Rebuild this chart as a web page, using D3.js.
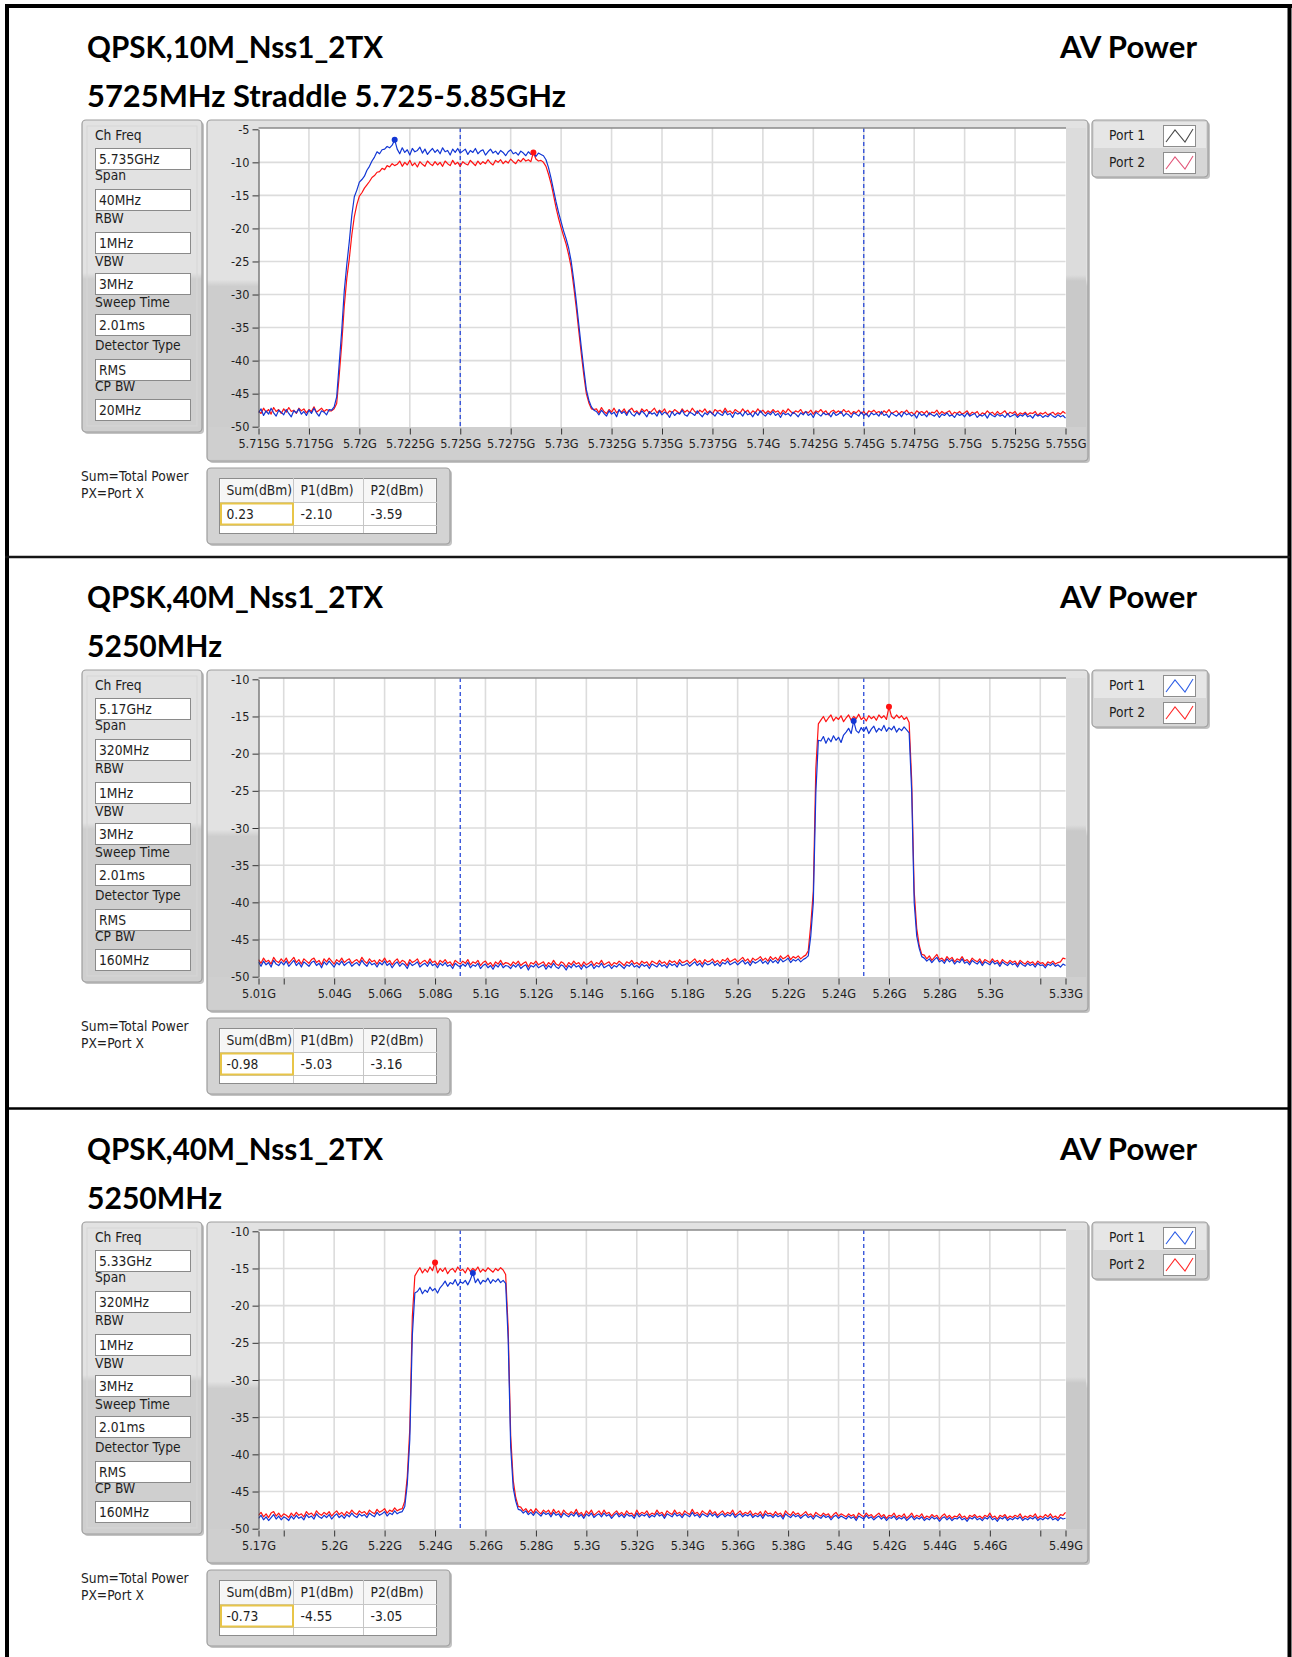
<!DOCTYPE html>
<html>
<head>
<meta charset="utf-8">
<title>AV Power spectra</title>
<script src="https://d3js.org/d3.v7.min.js"></script>
<style>
  body { margin: 0; background: #fff; }
  svg { display: block; }
  .ui { font-family: "DejaVu Sans Condensed", "Liberation Sans Narrow", "DejaVu Sans", sans-serif; font-stretch: condensed; font-size: 13.7px; fill: #1e1e1e; }
  .title { font-family: "Lato", "Open Sans", "DejaVu Sans", sans-serif; font-weight: 700; font-size: 31px; fill: #000; }
  .axis text { font-family: "DejaVu Sans Condensed", "Liberation Sans Narrow", "DejaVu Sans", sans-serif; font-stretch: condensed; font-size: 12.6px; fill: #1e1e1e; }
</style>
</head>
<body>
<svg id="page" width="1292" height="1657"></svg>
<script>
// ---------------- text ----------------
const panelTitles = ["QPSK,10M_Nss1_2TX", "QPSK,40M_Nss1_2TX", "QPSK,40M_Nss1_2TX"];
const panelSubtitles = ["5725MHz Straddle 5.725-5.85GHz", "5250MHz", "5250MHz"];
const modeLabel = "AV Power";
const settingLabels = ["Ch Freq", "Span", "RBW", "VBW", "Sweep Time", "Detector Type", "CP BW"];
const legendLabels = ["Port 1", "Port 2"];
const noteLines = ["Sum=Total Power", "PX=Port X"];
const resultHeaders = ["Sum(dBm)", "P1(dBm)", "P2(dBm)"];

// ---------------- analyzer settings & channel power results ----------------
const p1Settings = ["5.735GHz", "40MHz", "1MHz", "3MHz", "2.01ms", "RMS", "20MHz"];
const p2Settings = ["5.17GHz", "320MHz", "1MHz", "3MHz", "2.01ms", "RMS", "160MHz"];
const p3Settings = ["5.33GHz", "320MHz", "1MHz", "3MHz", "2.01ms", "RMS", "160MHz"];
const p1Results = ["0.23", "-2.10", "-3.59"];
const p2Results = ["-0.98", "-5.03", "-3.16"];
const p3Results = ["-0.73", "-4.55", "-3.05"];

// ---------------- axes (frequency in GHz, level in dBm) ----------------
const p1XDomain = [5.715, 5.755];
const p1XTicks = [5.715, 5.7175, 5.72, 5.7225, 5.725, 5.7275, 5.73, 5.7325, 5.735, 5.7375, 5.74, 5.7425, 5.745, 5.7475, 5.75, 5.7525, 5.755];
const p1XLabels = ["5.715G", "5.7175G", "5.72G", "5.7225G", "5.725G", "5.7275G", "5.73G", "5.7325G", "5.735G", "5.7375G", "5.74G", "5.7425G", "5.745G", "5.7475G", "5.75G", "5.7525G", "5.755G"];
const p1XGrid = [5.7175, 5.72, 5.7225, 5.725, 5.7275, 5.73, 5.7325, 5.735, 5.7375, 5.74, 5.7425, 5.745, 5.7475, 5.75, 5.7525];
const p1YDomain = [-50, -5];
const p1YTicks = [-50, -45, -40, -35, -30, -25, -20, -15, -10, -5];
const p1YLabels = ["-50", "-45", "-40", "-35", "-30", "-25", "-20", "-15", "-10", "-5"];
const p1CpEdges = [5.725, 5.745];

const p2XDomain = [5.01, 5.33];
const p2XTicks = [5.01, 5.02, 5.04, 5.06, 5.08, 5.1, 5.12, 5.14, 5.16, 5.18, 5.2, 5.22, 5.24, 5.26, 5.28, 5.3, 5.32, 5.33];
const p2XLabels = ["5.01G", "", "5.04G", "5.06G", "5.08G", "5.1G", "5.12G", "5.14G", "5.16G", "5.18G", "5.2G", "5.22G", "5.24G", "5.26G", "5.28G", "5.3G", "", "5.33G"];
const p2XGrid = [5.02, 5.04, 5.06, 5.08, 5.1, 5.12, 5.14, 5.16, 5.18, 5.2, 5.22, 5.24, 5.26, 5.28, 5.3, 5.32];
const p2CpEdges = [5.09, 5.25];

const p3XDomain = [5.17, 5.49];
const p3XTicks = [5.17, 5.18, 5.2, 5.22, 5.24, 5.26, 5.28, 5.3, 5.32, 5.34, 5.36, 5.38, 5.4, 5.42, 5.44, 5.46, 5.48, 5.49];
const p3XLabels = ["5.17G", "", "5.2G", "5.22G", "5.24G", "5.26G", "5.28G", "5.3G", "5.32G", "5.34G", "5.36G", "5.38G", "5.4G", "5.42G", "5.44G", "5.46G", "", "5.49G"];
const p3XGrid = [5.18, 5.2, 5.22, 5.24, 5.26, 5.28, 5.3, 5.32, 5.34, 5.36, 5.38, 5.4, 5.42, 5.44, 5.46, 5.48];
const p3CpEdges = [5.25, 5.41];

const wideYDomain = [-50, -10];
const wideYTicks = [-50, -45, -40, -35, -30, -25, -20, -15, -10];
const wideYLabels = ["-50", "-45", "-40", "-35", "-30", "-25", "-20", "-15", "-10"];

// ---------------- traces (dBm), equally spaced sweep points across each frequency span ----------------
// 10 MHz channel centred on 5.735 GHz, 5.715-5.755 GHz sweep
const p1Port1 = [
  -47.9,-47.3,-48.3,-47.6,-48.1,-47.2,-47.9,-48.4,-47.5,-47.8,
  -48.2,-47.4,-48.0,-48.5,-47.6,-47.9,-47.3,-48.1,-47.7,-48.3,
  -47.5,-48.0,-47.2,-47.9,-48.4,-47.6,-47.8,-48.2,-47.4,
  // rising edge
  -47.5,-47.0,-45.5,-40.5,-35.5,-29.5,-25.5,-22.0,-18.0,-15.2,-14.2,-13.0,-12.6,
  -12.1,-11.2,-10.6,-9.8,-9.2,-8.4,-8.7,-8.1,-8.0,-7.6,-7.8,-7.4,-6.6,
  // in-channel
  -8.0,-8.7,-7.8,-8.5,-8.1,-8.9,-7.9,-8.4,-8.2,-7.7,
  -8.6,-8.0,-8.8,-8.3,-7.9,-8.5,-8.1,-8.7,-7.8,-8.4,
  -8.2,-8.9,-8.0,-8.5,-7.9,-8.6,-8.3,-8.0,-8.8,-8.2,
  -8.5,-7.9,-8.7,-8.3,-8.1,-8.9,-8.4,-8.0,-8.6,-8.3,
  -8.8,-8.2,-8.5,-9.0,-8.4,-8.1,-8.7,-8.5,-8.9,-8.3,
  -8.6,-9.0,-8.4,-8.8,-8.5,-9.1,-8.6,-8.8,
  // falling edge
  -9.0,-9.6,-10.8,-12.4,-14.2,-16.0,-17.6,-19.0,-20.4,-21.6,-23.0,
  -25.0,-27.8,-31.0,-34.5,-38.0,-41.3,-44.4,-46.0,-47.0,-47.5,
  // noise floor
  -47.7,-48.2,-47.5,-48.0,-48.4,-47.6,-48.1,-47.8,-48.5,-47.4,
  -48.0,-47.7,-48.3,-47.5,-48.1,-48.4,-47.8,-48.2,-47.6,-48.0,
  -48.5,-47.7,-48.1,-47.9,-48.4,-47.6,-48.2,-47.8,-48.0,-48.6,
  -47.7,-48.3,-47.9,-48.1,-47.5,-48.2,-48.4,-47.8,-48.0,-48.3,
  -47.6,-48.1,-48.5,-47.9,-48.2,-47.7,-48.0,-48.4,-47.8,-48.1,
  -48.3,-47.6,-48.2,-48.0,-48.6,-47.8,-48.1,-47.9,-48.4,-47.7,
  -48.2,-48.0,-48.5,-47.8,-48.3,-47.6,-48.1,-48.4,-47.9,-48.2,
  -47.7,-48.3,-48.0,-48.6,-47.9,-48.2,-48.0,-48.4,-47.8,-48.1,
  -48.5,-47.9,-48.2,-47.7,-48.3,-48.0,-48.6,-47.8,-48.1,-48.4,
  -47.9,-48.2,-48.0,-48.5,-47.8,-48.3,-48.1,-47.7,-48.4,-48.0,
  -48.2,-48.6,-47.9,-48.1,-48.4,-47.8,-48.3,-48.0,-48.5,-47.9,
  -48.2,-48.0,-48.4,-47.7,-48.3,-48.1,-48.6,-47.9,-48.2,-48.4,
  -48.0,-48.5,-47.8,-48.2,-48.0,-48.4,-48.1,-48.7,-47.9,-48.3,
  -48.1,-48.5,-47.9,-48.2,-48.4,-48.0,-48.6,-48.1,-48.3,-47.9,
  -48.4,-48.2,-48.6,-48.0,-48.3,-48.1,-48.5,-47.9,-48.4,-48.2,
  -48.0,-48.6,-48.2,-48.4,-48.1,-48.7,-48.0,-48.3,-48.5,-48.1,
  -48.4,-48.2,-48.6,-48.0,-48.5,-48.3,-48.1,-48.6,-48.2,-48.4,
  -48.0,-48.5,-48.3,-48.7,-48.1,-48.4,-48.2,-48.6,-48.3,-48.5,
  -48.1,-48.4,-48.6,-48.2,-48.5,-48.3,-48.7
];
const p1Port2 = [
  -47.6,-48.0,-47.2,-47.8,-47.4,-48.1,-47.1,-47.7,-47.4,-48.0,
  -47.3,-47.8,-47.1,-47.7,-47.5,-48.0,-47.2,-47.6,-47.3,-47.9,
  -47.4,-47.7,-47.0,-47.8,-47.5,-47.2,-47.7,-47.4,-47.6,
  // rising edge
  -47.6,-47.3,-46.5,-42.3,-37.5,-31.8,-27.6,-24.6,-21.0,-18.2,-16.4,-15.1,-14.6,
  -13.9,-13.4,-12.9,-12.3,-12.0,-11.5,-11.4,-10.9,-11.1,-10.5,-10.7,-10.2,-10.5,
  // in-channel
  -10.3,-9.8,-10.6,-10.0,-10.4,-9.7,-10.5,-10.1,-10.7,-9.9,
  -10.3,-10.6,-9.8,-10.2,-10.5,-9.9,-10.4,-10.0,-10.6,-9.8,
  -10.2,-10.5,-9.7,-10.3,-10.0,-10.6,-9.9,-10.2,-10.4,-9.7,
  -10.1,-10.5,-9.8,-10.3,-9.9,-10.2,-9.6,-10.1,-10.4,-9.7,
  -10.0,-9.6,-10.2,-9.8,-10.1,-9.5,-9.9,-10.2,-9.6,-9.9,
  -9.4,-9.8,-9.6,-9.9,-8.5,-9.5,-9.8,-9.7,
  // falling edge
  -10.0,-10.6,-11.8,-13.2,-15.0,-16.9,-18.5,-19.9,-21.2,-22.4,-24.0,
  -25.9,-28.8,-32.0,-35.5,-39.0,-42.2,-45.0,-46.4,-47.3,-47.4,
  // noise floor
  -47.3,-47.9,-47.1,-47.7,-48.0,-47.4,-47.8,-47.2,-47.9,-47.5,
  -47.8,-47.3,-48.0,-47.5,-47.2,-47.8,-47.6,-48.1,-47.3,-47.7,
  -47.4,-48.0,-47.6,-47.2,-47.9,-47.5,-47.8,-47.3,-48.1,-47.6,
  -47.9,-47.4,-47.7,-48.0,-47.3,-47.8,-47.5,-47.9,-47.2,-47.7,
  -48.0,-47.5,-47.8,-47.3,-47.9,-47.6,-48.1,-47.4,-47.7,-47.5,
  -47.9,-47.2,-47.8,-47.6,-48.0,-47.4,-47.7,-47.9,-47.3,-47.8,
  -47.5,-48.1,-47.6,-47.9,-47.3,-47.8,-47.5,-48.0,-47.6,-47.9,
  -47.4,-47.8,-47.6,-48.1,-47.5,-47.9,-47.3,-47.7,-48.0,-47.6,
  -47.8,-47.4,-48.0,-47.7,-47.9,-47.5,-48.1,-47.6,-47.8,-47.4,
  -47.9,-47.6,-48.2,-47.7,-47.5,-47.9,-47.6,-48.0,-47.4,-47.8,
  -47.6,-48.1,-47.7,-47.9,-47.5,-48.0,-47.7,-48.2,-47.6,-47.8,
  -47.5,-47.9,-47.7,-48.1,-47.6,-47.9,-47.4,-48.0,-47.8,-47.6,
  -48.1,-47.7,-47.9,-47.5,-48.0,-47.8,-48.2,-47.6,-47.9,-47.7,
  -48.0,-47.6,-48.2,-47.8,-47.9,-47.5,-48.1,-47.7,-48.0,-47.8,
  -47.6,-48.2,-47.8,-48.0,-47.7,-48.1,-47.9,-47.6,-48.2,-47.8,
  -48.0,-47.7,-48.3,-47.9,-48.1,-47.6,-48.0,-47.8,-48.2,-47.7,
  -48.1,-47.9,-47.6,-48.2,-47.8,-48.0,-47.7,-48.3,-47.9,-48.1,
  -47.8,-48.2,-47.9,-48.0,-47.7,-48.3,-47.9,-48.1,-47.8,-48.2,
  -48.0,-47.8,-48.2,-47.9,-48.1,-47.7,-48.0
];

// 40 MHz channel at 5.25 GHz, 5.01-5.33 GHz sweep
const p2Port1 = [
  -48.0,-48.6,-47.9,-48.4,-48.1,-48.7,-47.8,-48.3,-48.5,-48.0,
  -48.4,-47.9,-48.6,-48.2,-47.8,-48.5,-48.1,-48.7,-48.0,-48.3,
  -48.6,-48.1,-47.9,-48.5,-48.2,-48.8,-48.0,-48.4,-47.9,-48.3,
  -48.7,-48.1,-48.4,-47.9,-48.5,-48.2,-48.0,-48.6,-48.3,-48.1,
  -48.5,-47.8,-48.3,-48.6,-48.0,-48.4,-48.2,-48.7,-48.1,-48.4,
  -47.9,-48.5,-48.2,-48.8,-48.3,-48.0,-48.6,-48.2,-48.4,-48.9,
  -48.1,-48.5,-48.3,-48.0,-48.7,-48.4,-48.2,-48.6,-48.0,-48.5,
  -48.3,-48.8,-48.2,-48.5,-48.1,-48.6,-48.4,-48.9,-48.2,-48.5,
  -48.7,-48.3,-48.6,-48.1,-48.8,-48.4,-48.6,-48.2,-48.9,-48.5,
  -48.3,-48.8,-48.5,-49.0,-48.4,-48.7,-48.2,-48.8,-48.5,-48.6,
  -48.9,-48.4,-48.7,-48.3,-48.9,-48.6,-48.4,-49.1,-48.5,-48.7,
  -48.3,-48.8,-48.6,-48.4,-49.0,-48.5,-48.8,-48.2,-48.7,-48.9,
  -48.4,-48.6,-49.1,-48.5,-48.8,-48.3,-48.7,-48.5,-49.0,-48.4,
  -48.8,-48.6,-48.3,-48.9,-48.5,-48.7,-48.2,-48.8,-48.6,-48.4,
  -48.9,-48.5,-48.7,-48.3,-48.6,-48.9,-48.4,-48.6,-48.2,-48.7,
  -48.5,-48.8,-48.3,-48.6,-48.4,-48.9,-48.3,-48.5,-48.7,-48.2,
  -48.6,-48.4,-48.8,-48.2,-48.5,-48.3,-48.7,-48.1,-48.5,-48.4,
  -48.2,-48.6,-48.3,-48.0,-48.5,-48.2,-48.7,-48.1,-48.4,-48.3,
  -48.0,-48.5,-48.2,-48.6,-48.1,-48.3,-47.9,-48.4,-48.2,-48.0,
  -48.4,-48.1,-47.8,-48.3,-48.0,-48.5,-47.9,-48.2,-48.0,-47.7,
  -48.2,-47.9,-48.3,-47.7,-48.1,-47.8,-48.2,-47.6,-48.0,-47.8,
  -47.5,-48.1,-47.7,-47.9,-47.6,-48.0,-47.7,-47.5,
  // rising edge
  -47.2,-44.5,-40.0,-25.3,-18.2,
  // in-channel
  -18.3,-17.7,-18.6,-17.9,-18.4,-17.6,-18.2,-17.8,-18.5,-17.5,
  -17.1,-16.6,-17.3,-15.6,-16.9,-17.2,-16.5,-17.0,-16.4,-17.3,
  -16.7,-16.3,-17.1,-16.6,-16.9,-16.2,-17.0,-16.5,-16.8,-16.3,
  -17.1,-16.6,-16.9,-16.4,-16.8,
  // falling edge
  -17.2,-25.0,-40.0,-44.5,-46.2,-47.3,
  // noise floor
  -47.5,-47.9,-47.6,-48.1,-47.7,-47.4,-48.0,-47.8,-48.2,-47.6,
  -48.0,-47.7,-48.3,-47.9,-48.1,-47.6,-48.2,-48.0,-48.4,-47.8,
  -48.1,-48.3,-47.9,-48.5,-48.0,-48.2,-48.4,-47.9,-48.3,-48.1,
  -48.6,-48.0,-48.3,-48.5,-48.1,-48.4,-48.2,-48.7,-48.1,-48.4,
  -48.6,-48.2,-48.5,-48.3,-48.7,-48.2,-48.5,-48.4,-48.8,-48.3,
  -48.5,-48.2,-48.6,-48.4,-48.7,-48.3,-48.5
];
const p2Port2 = [
  -47.7,-48.2,-47.5,-48.0,-47.8,-48.3,-47.4,-47.9,-48.1,-47.6,
  -48.0,-47.5,-48.2,-47.8,-47.4,-48.1,-47.7,-48.3,-47.6,-47.9,
  -48.2,-47.7,-47.5,-48.1,-47.8,-48.4,-47.6,-48.0,-47.5,-47.9,
  -48.3,-47.7,-48.0,-47.5,-48.1,-47.8,-47.6,-48.2,-47.9,-47.7,
  -48.1,-47.4,-47.9,-48.2,-47.6,-48.0,-47.8,-48.3,-47.7,-48.0,
  -47.5,-48.1,-47.8,-48.4,-47.9,-47.6,-48.2,-47.8,-48.0,-48.5,
  -47.7,-48.1,-47.9,-47.6,-48.3,-48.0,-47.8,-48.2,-47.6,-48.1,
  -47.9,-48.4,-47.8,-48.1,-47.7,-48.2,-48.0,-48.5,-47.8,-48.1,
  -48.3,-47.9,-48.2,-47.7,-48.4,-48.0,-48.2,-47.8,-48.5,-48.1,
  -47.9,-48.4,-48.1,-48.6,-48.0,-48.3,-47.8,-48.4,-48.1,-48.2,
  -48.5,-48.0,-48.3,-47.9,-48.5,-48.2,-48.0,-48.7,-48.1,-48.3,
  -47.9,-48.4,-48.2,-48.0,-48.6,-48.1,-48.4,-47.8,-48.3,-48.5,
  -48.0,-48.2,-48.7,-48.1,-48.4,-47.9,-48.3,-48.1,-48.6,-48.0,
  -48.4,-48.2,-47.9,-48.5,-48.1,-48.3,-47.8,-48.4,-48.2,-48.0,
  -48.5,-48.1,-48.3,-47.9,-48.2,-48.5,-48.0,-48.2,-47.8,-48.3,
  -48.1,-48.4,-47.9,-48.2,-48.0,-48.5,-47.9,-48.1,-48.3,-47.8,
  -48.2,-48.0,-48.4,-47.8,-48.1,-47.9,-48.3,-47.7,-48.1,-48.0,
  -47.8,-48.2,-47.9,-47.6,-48.1,-47.8,-48.3,-47.7,-48.0,-47.9,
  -47.6,-48.1,-47.8,-48.2,-47.7,-47.9,-47.5,-48.0,-47.8,-47.6,
  -48.0,-47.7,-47.4,-47.9,-47.6,-48.1,-47.5,-47.8,-47.6,-47.3,
  -47.8,-47.5,-47.9,-47.3,-47.7,-47.4,-47.8,-47.2,-47.6,-47.4,
  -47.1,-47.7,-47.3,-47.5,-47.2,-47.6,-47.3,-47.1,
  // rising edge
  -46.5,-43.0,-38.5,-22.0,-16.0,
  // in-channel
  -15.5,-15.0,-15.7,-15.2,-14.8,-15.6,-15.1,-15.4,-14.9,-15.7,
  -15.2,-14.8,-15.5,-15.0,-15.3,-14.7,-15.4,-15.1,-15.6,-14.9,
  -15.3,-15.0,-15.5,-14.8,-15.2,-14.9,-15.4,-13.7,-15.0,-15.3,
  -14.8,-15.2,-14.9,-15.4,-15.1,
  // falling edge
  -15.8,-23.5,-38.5,-43.5,-45.8,-47.0,
  // noise floor
  -47.1,-47.6,-47.2,-47.8,-47.4,-47.0,-47.7,-47.5,-47.9,-47.3,
  -47.7,-47.4,-48.0,-47.6,-47.8,-47.3,-47.9,-47.7,-48.1,-47.5,
  -47.8,-48.0,-47.6,-48.2,-47.7,-47.9,-48.1,-47.6,-48.0,-47.8,
  -48.3,-47.7,-48.0,-48.2,-47.8,-48.1,-47.9,-48.4,-47.8,-48.1,
  -48.3,-47.9,-48.2,-48.0,-48.4,-47.9,-48.2,-48.1,-48.5,-48.0,
  -48.2,-47.9,-48.3,-48.1,-48.0,-47.5,-47.6
];

// 40 MHz channel at 5.25 GHz, 5.17-5.49 GHz sweep
const p3Port1 = [
  -48.6,-48.2,-48.8,-48.4,-48.9,-48.5,-48.1,-48.7,-48.3,-48.8,
  -48.4,-48.6,-48.9,-48.3,-48.7,-48.2,-48.6,-48.4,-48.8,-48.1,
  -48.5,-48.3,-48.7,-48.0,-48.4,-48.6,-48.2,-48.5,-48.1,-48.7,
  -48.3,-48.0,-48.5,-48.2,-48.6,-48.1,-48.4,-47.9,-48.3,-48.5,
  -48.0,-48.3,-48.1,-48.5,-47.9,-48.2,-48.4,-47.8,-48.2,-48.0,
  -47.7,-48.3,-47.9,-48.1,-47.6,-48.0,-47.8,-47.7,
  // rising edge
  -47.0,-44.0,-38.0,-24.0,-18.3,
  // in-channel
  -18.1,-17.6,-18.4,-17.9,-18.2,-17.5,-18.0,-17.7,-18.3,-17.6,
  -17.2,-16.7,-17.4,-16.9,-17.1,-16.5,-17.3,-16.8,-17.0,-16.6,
  -17.2,-16.5,-15.6,-16.9,-16.4,-17.1,-16.6,-16.8,-16.3,-17.0,
  -16.5,-16.8,-16.4,-16.9,-16.6,
  // falling edge
  -17.0,-24.5,-39.0,-44.5,-46.3,-47.4,
  // noise floor
  -47.5,-47.9,-47.6,-48.1,-47.8,-48.2,-47.7,-48.0,-48.3,-47.8,
  -48.1,-47.9,-48.4,-47.8,-48.2,-48.0,-48.5,-47.9,-48.2,-48.4,
  -48.0,-48.3,-47.8,-48.4,-48.1,-48.6,-48.0,-48.3,-47.9,-48.5,
  -48.2,-48.0,-48.4,-47.9,-48.3,-48.1,-48.6,-48.2,-47.9,-48.4,
  -48.1,-48.5,-48.0,-48.3,-48.2,-48.6,-47.9,-48.4,-48.1,-48.3,
  -48.0,-48.5,-48.2,-48.4,-47.9,-48.3,-48.1,-48.6,-48.0,-48.2,
  -48.4,-47.9,-48.3,-48.1,-48.5,-48.0,-48.2,-48.4,-47.8,-48.3,
  -48.1,-48.5,-48.0,-48.2,-48.4,-47.9,-48.3,-48.0,-48.5,-48.2,
  -48.0,-48.4,-48.1,-48.3,-47.9,-48.5,-48.2,-48.0,-48.4,-48.1,
  -48.3,-48.0,-48.5,-48.2,-48.4,-48.1,-48.6,-48.0,-48.3,-48.2,
  -48.5,-48.1,-48.4,-48.2,-48.7,-48.0,-48.3,-48.5,-48.1,-48.4,
  -48.2,-48.6,-48.3,-48.1,-48.5,-48.3,-48.7,-48.2,-48.4,-48.6,
  -48.2,-48.5,-48.3,-48.8,-48.4,-48.2,-48.6,-48.3,-48.5,-48.7,
  -48.3,-48.6,-48.4,-48.9,-48.3,-48.5,-48.7,-48.2,-48.6,-48.4,
  -48.8,-48.5,-48.3,-48.7,-48.4,-48.9,-48.5,-48.6,-48.3,-48.8,
  -48.5,-48.7,-48.4,-48.9,-48.6,-48.3,-48.8,-48.5,-48.7,-48.4,
  -48.9,-48.6,-48.8,-48.4,-48.7,-48.5,-49.0,-48.6,-48.4,-48.8,
  -48.5,-48.9,-48.6,-48.7,-48.4,-48.8,-48.6,-49.0,-48.5,-48.7,
  -48.4,-48.8,-48.6,-48.9,-48.5,-48.7,-48.3,-48.8,-48.6,-49.0,
  -48.5,-48.7,-48.4,-48.9,-48.6,-48.8,-48.5,-48.7,-48.4,-48.9,
  -48.6,-48.8,-48.5,-48.7,-48.4,-48.9,-48.6,-48.8,-48.5,-48.7,
  -48.4,-48.8,-48.6,-48.9,-48.5,-48.7,-48.6
];
const p3Port2 = [
  -48.2,-47.8,-48.4,-48.0,-48.5,-47.9,-47.7,-48.3,-47.9,-48.4,
  -48.0,-48.2,-48.5,-47.9,-48.3,-47.8,-48.2,-48.0,-48.4,-47.7,
  -48.1,-47.9,-48.3,-47.6,-48.0,-48.2,-47.8,-48.1,-47.7,-48.3,
  -47.9,-47.6,-48.1,-47.8,-48.2,-47.7,-48.0,-47.5,-47.9,-48.1,
  -47.6,-47.9,-47.7,-48.1,-47.5,-47.8,-48.0,-47.4,-47.8,-47.6,
  -47.3,-47.9,-47.5,-47.7,-47.2,-47.6,-47.4,-47.3,
  // rising edge
  -46.3,-43.0,-36.5,-21.5,-16.0,
  // in-channel
  -15.4,-14.9,-15.6,-15.1,-15.5,-14.8,-15.3,-14.2,-15.6,-15.0,
  -15.4,-14.9,-15.7,-15.2,-15.0,-15.5,-14.8,-15.3,-15.1,-15.6,
  -14.9,-15.4,-15.0,-15.3,-14.8,-15.5,-15.1,-15.4,-14.9,-15.2,
  -15.5,-15.0,-15.3,-14.9,-15.2,
  // falling edge
  -15.8,-23.0,-37.5,-43.5,-45.8,-47.0,
  // noise floor
  -47.1,-47.6,-47.3,-47.8,-47.4,-47.9,-47.3,-47.7,-48.0,-47.5,
  -47.8,-47.5,-48.1,-47.4,-47.9,-47.6,-48.2,-47.5,-47.9,-48.1,
  -47.7,-48.0,-47.4,-48.1,-47.8,-48.3,-47.6,-48.0,-47.5,-48.2,
  -47.9,-47.6,-48.1,-47.5,-48.0,-47.8,-48.3,-47.9,-47.6,-48.1,
  -47.8,-48.2,-47.6,-48.0,-47.9,-48.3,-47.5,-48.1,-47.8,-48.0,
  -47.6,-48.2,-47.9,-48.1,-47.5,-48.0,-47.8,-48.3,-47.6,-47.9,
  -48.1,-47.5,-48.0,-47.8,-48.2,-47.6,-47.9,-48.1,-47.4,-48.0,
  -47.8,-48.2,-47.6,-47.9,-48.1,-47.5,-48.0,-47.7,-48.2,-47.9,
  -47.6,-48.1,-47.8,-48.0,-47.5,-48.2,-47.9,-47.6,-48.1,-47.8,
  -48.0,-47.6,-48.2,-47.9,-48.1,-47.7,-48.3,-47.6,-48.0,-47.9,
  -48.2,-47.7,-48.1,-47.9,-48.4,-47.6,-48.0,-48.2,-47.7,-48.1,
  -47.9,-48.3,-48.0,-47.7,-48.2,-48.0,-48.4,-47.8,-48.1,-48.3,
  -47.9,-48.2,-48.0,-48.5,-48.1,-47.8,-48.3,-48.0,-48.2,-48.4,
  -48.0,-48.3,-48.1,-48.6,-47.9,-48.2,-48.4,-47.9,-48.3,-48.1,
  -48.5,-48.2,-47.9,-48.4,-48.1,-48.6,-48.2,-48.3,-47.9,-48.5,
  -48.2,-48.4,-48.0,-48.6,-48.3,-47.9,-48.5,-48.2,-48.4,-48.0,
  -48.6,-48.3,-48.5,-48.1,-48.4,-48.2,-48.7,-48.3,-48.0,-48.5,
  -48.2,-48.6,-48.3,-48.4,-48.0,-48.5,-48.3,-48.7,-48.2,-48.4,
  -48.1,-48.5,-48.3,-48.6,-48.2,-48.4,-47.9,-48.5,-48.3,-48.7,
  -48.2,-48.4,-48.1,-48.6,-48.3,-48.5,-48.2,-48.4,-48.0,-48.6,
  -48.3,-48.5,-48.2,-48.4,-48.0,-48.6,-48.3,-48.5,-48.1,-48.4,
  -48.0,-48.5,-48.3,-48.6,-48.1,-48.2,-47.8
];

// ---------------- assemble panels ----------------
const panels = [
  { title: panelTitles[0], sub: panelSubtitles[0], settings: p1Settings, results: p1Results,
    port1: p1Port1, port2: p1Port2, xDomain: p1XDomain, xTicks: p1XTicks, xLabels: p1XLabels,
    xGrid: p1XGrid, yDomain: p1YDomain, yTicks: p1YTicks, yLabels: p1YLabels, cp: p1CpEdges },
  { title: panelTitles[1], sub: panelSubtitles[1], settings: p2Settings, results: p2Results,
    port1: p2Port1, port2: p2Port2, xDomain: p2XDomain, xTicks: p2XTicks, xLabels: p2XLabels,
    xGrid: p2XGrid, yDomain: wideYDomain, yTicks: wideYTicks, yLabels: wideYLabels, cp: p2CpEdges },
  { title: panelTitles[2], sub: panelSubtitles[2], settings: p3Settings, results: p3Results,
    port1: p3Port1, port2: p3Port2, xDomain: p3XDomain, xTicks: p3XTicks, xLabels: p3XLabels,
    xGrid: p3XGrid, yDomain: wideYDomain, yTicks: wideYTicks, yLabels: wideYLabels, cp: p3CpEdges }
];

// ---------------- layout ----------------
const L = {
  offsets: [0, 550, 1102],
  titleX: 87, titleY: 58, subY: 107, titleW: 296, subW: [479, 135, 135], modeRight: 1197, modeW: 137,
  box: { x: 82, y: 120, w: 120, h: 312 },
  setLabelY: [139.5, 179.5, 223, 266, 306.5, 350, 390.5],
  setBoxY: [148, 189, 231.5, 273, 314, 359, 399],
  frame: { x: 207, y: 120, w: 881, h: 341 },
  plot: { x0: 258.5, x1: 1065.5, yTop: 129.3, yBot: 426.7 },
  legend: { x: 1092, y: 120, w: 116, h: 57 },
  res: { x: 207, y: 468, w: 243, h: 76 },
  table: { x: 219.5, y: 478, w: 217, cols: [219.5, 293.5, 363.5, 436.5], rows: [478, 502, 525, 533] }
};
const BLUE = "#1236d4", RED = "#ff1212";
const legendSwatches = [["#4a4a4a", "#e2577a"], ["#2f5fe6", "#ff2a2a"], ["#2f5fe6", "#ff2a2a"]];

const svg = d3.select("#page");
const defs = svg.append("defs");

function vGrad(id, split, top, bottom) {
  const g = defs.append("linearGradient").attr("id", id).attr("x1", 0).attr("y1", 0).attr("x2", 0).attr("y2", 1);
  g.append("stop").attr("offset", 0).attr("stop-color", top);
  g.append("stop").attr("offset", split - 0.01).attr("stop-color", top);
  g.append("stop").attr("offset", split + 0.01).attr("stop-color", bottom);
  g.append("stop").attr("offset", 1).attr("stop-color", bottom);
}
vGrad("boxFill", 0.5, "#e2e2e2", "#cfcfcf");
vGrad("frameFill", 0.478, "#e2e2e2", "#cdcdcd");
vGrad("marginFill", 0.5, "#dcdcdc", "#c9c9c9");

function raisedRect(g, r, fill) {
  g.append("rect").attr("x", r.x + 2).attr("y", r.y + 2).attr("width", r.w).attr("height", r.h)
    .attr("rx", 4).attr("fill", "#c3c3c3");
  g.append("rect").attr("x", r.x).attr("y", r.y).attr("width", r.w).attr("height", r.h)
    .attr("rx", 4).attr("fill", fill).attr("stroke", "#9d9d9d").attr("stroke-width", 1.2);
}

function drawPanel(p, k) {
  const g = svg.append("g").attr("transform", `translate(0,${L.offsets[k]})`);

  // headings
  g.append("text").attr("class", "title").attr("x", L.titleX).attr("y", L.titleY)
    .attr("textLength", L.titleW).attr("lengthAdjust", "spacingAndGlyphs").text(p.title);
  g.append("text").attr("class", "title").attr("x", L.titleX).attr("y", L.subY)
    .attr("textLength", L.subW[k]).attr("lengthAdjust", "spacingAndGlyphs").text(p.sub);
  g.append("text").attr("class", "title").attr("x", L.modeRight - L.modeW).attr("y", L.titleY)
    .attr("textLength", L.modeW).attr("lengthAdjust", "spacingAndGlyphs").text(modeLabel);

  // settings box
  raisedRect(g, L.box, "url(#boxFill)");
  g.append("rect").attr("x", L.box.x + 5).attr("y", L.box.y + 6).attr("width", L.box.w - 10).attr("height", L.box.h - 12)
    .attr("fill", "none").attr("stroke", "#d6d6d6");
  p.settings.forEach((v, i) => {
    g.append("rect").attr("x", 95.5).attr("y", L.setBoxY[i] + 0.5).attr("width", 95).attr("height", 21)
      .attr("fill", "#fff").attr("stroke", "#8a8a8a").attr("shape-rendering", "crispEdges");
    g.append("text").attr("class", "ui").attr("x", 99).attr("y", L.setBoxY[i] + 16).text(v);
  });
  settingLabels.forEach((lab, i) => {
    g.append("text").attr("class", "ui").attr("x", 95).attr("y", L.setLabelY[i]).text(lab);
  });

  // graph frame
  raisedRect(g, L.frame, "url(#frameFill)");
  g.append("rect").attr("x", 1066).attr("y", 128).attr("width", 20).attr("height", 300).attr("fill", "url(#marginFill)");
  g.append("rect").attr("x", 209).attr("y", 427).attr("width", 877).attr("height", 32).attr("fill", "#cfcfcf");

  const x = d3.scaleLinear().domain(p.xDomain).range([L.plot.x0, L.plot.x1]);
  const y = d3.scaleLinear().domain(p.yDomain).range([L.plot.yBot, L.plot.yTop]);

  // plot area
  g.append("rect").attr("x", L.plot.x0).attr("y", 128).attr("width", L.plot.x1 - L.plot.x0 + 0.5).attr("height", 299)
    .attr("fill", "#fff");

  // grid
  g.append("g").selectAll("line").data(p.xGrid).join("line")
    .attr("x1", d => x(d)).attr("x2", d => x(d)).attr("y1", 128).attr("y2", 427)
    .attr("stroke", "#dcdcdc").attr("stroke-width", 1.6);
  g.append("g").selectAll("line").data(p.yTicks.slice(1, -1)).join("line")
    .attr("x1", L.plot.x0).attr("x2", L.plot.x1).attr("y1", d => y(d)).attr("y2", d => y(d))
    .attr("stroke", "#dcdcdc").attr("stroke-width", 1.6);

  // channel power band edges
  g.append("g").selectAll("line").data(p.cp).join("line")
    .attr("x1", d => x(d)).attr("x2", d => x(d)).attr("y1", 128).attr("y2", 427)
    .attr("stroke", "#2b4ad8").attr("stroke-width", 1.3).attr("stroke-dasharray", "4,3");

  // plot top border
  g.append("line").attr("x1", L.plot.x0).attr("x2", L.plot.x1 + 0.5).attr("y1", 128).attr("y2", 128)
    .attr("stroke", "#8a8a8a").attr("stroke-width", 1.4);

  // traces (clip rect lives in the panel group's own coordinates)
  const clipId = `plotClip${k}`;
  defs.append("clipPath").attr("id", clipId).append("rect")
    .attr("x", L.plot.x0).attr("y", 127).attr("width", L.plot.x1 - L.plot.x0 + 1).attr("height", 301);
  const traces = g.append("g").attr("clip-path", `url(#${clipId})`);
  [[p.port2, RED], [p.port1, BLUE]].forEach(([vals, col]) => {
    const step = (p.xDomain[1] - p.xDomain[0]) / (vals.length - 1);
    const freq = i => p.xDomain[0] + i * step;
    const line = d3.line().x((d, i) => x(freq(i))).y(d => y(d));
    traces.append("path").datum(vals).attr("d", line).attr("fill", "none")
      .attr("stroke", col).attr("stroke-width", 1.2).attr("stroke-linejoin", "round");
  });
  // peak markers
  [[p.port2, RED], [p.port1, BLUE]].forEach(([vals, col]) => {
    const step = (p.xDomain[1] - p.xDomain[0]) / (vals.length - 1);
    const m = d3.maxIndex(vals);
    traces.append("circle").attr("cx", x(p.xDomain[0] + m * step)).attr("cy", y(vals[m])).attr("r", 3).attr("fill", col);
  });

  // axes
  const xAxis = g.append("g").attr("class", "axis").attr("transform", "translate(0,428.5)")
    .call(d3.axisBottom(x).tickValues(p.xTicks).tickFormat((d, i) => p.xLabels[i])
      .tickSizeInner(6).tickSizeOuter(0).tickPadding(4.5));
  xAxis.select(".domain").remove();
  xAxis.selectAll(".tick line").attr("stroke", "#333");
  xAxis.attr("font-family", null).attr("font-size", null);

  const yAxis = g.append("g").attr("class", "axis").attr("transform", `translate(${L.plot.x0},0)`)
    .call(d3.axisLeft(y).tickValues(p.yTicks).tickFormat((d, i) => p.yLabels[i])
      .tickSizeInner(6).tickSizeOuter(0).tickPadding(3));
  yAxis.select(".domain").attr("stroke", "#3a3a3a");
  yAxis.selectAll(".tick line").attr("stroke", "#333");
  yAxis.attr("font-family", null).attr("font-size", null);

  // legend
  const lg = L.legend;
  raisedRect(g, lg, "#d6d6d6");
  g.append("rect").attr("x", lg.x + 2).attr("y", lg.y + 2).attr("width", lg.w - 4).attr("height", 26).attr("fill", "#e6e6e6");
  legendLabels.forEach((lab, i) => {
    const ry = lg.y + 5 + i * 27;
    g.append("text").attr("class", "ui").attr("x", 1109).attr("y", ry + 15).text(lab);
    g.append("rect").attr("x", 1163.5).attr("y", ry + 0.5).attr("width", 32).attr("height", 21)
      .attr("fill", "#fff").attr("stroke", "#8d8d8d").attr("shape-rendering", "crispEdges");
    g.append("polyline").attr("points", [[1166, ry + 17], [1175, ry + 5], [1185, ry + 17], [1193, ry + 4]].join(" "))
      .attr("fill", "none").attr("stroke", legendSwatches[k][i]).attr("stroke-width", 1.1);
  });

  // notes and results table
  noteLines.forEach((t, i) => {
    g.append("text").attr("class", "ui").attr("x", 81).attr("y", 481 + i * 17).text(t);
  });
  raisedRect(g, L.res, "#d3d3d3");
  const t = L.table;
  g.append("rect").attr("x", t.x).attr("y", t.y).attr("width", t.w).attr("height", t.rows[3] - t.y)
    .attr("fill", "#fff").attr("stroke", "#8c8c8c").attr("shape-rendering", "crispEdges");
  g.append("rect").attr("x", t.x + 1).attr("y", t.y + 1).attr("width", t.w - 2).attr("height", t.rows[1] - t.y - 1)
    .attr("fill", "#f6f6f6");
  t.cols.slice(1, -1).forEach(cx => {
    g.append("line").attr("x1", cx).attr("x2", cx).attr("y1", t.y).attr("y2", t.rows[3])
      .attr("stroke", "#c6c6c6").attr("shape-rendering", "crispEdges");
  });
  t.rows.slice(1, -1).forEach(ry => {
    g.append("line").attr("x1", t.x).attr("x2", t.x + t.w).attr("y1", ry).attr("y2", ry)
      .attr("stroke", "#c6c6c6").attr("shape-rendering", "crispEdges");
  });
  g.append("rect").attr("x", t.cols[0] + 1.5).attr("y", t.rows[1] + 1.5).attr("width", t.cols[1] - t.cols[0] - 2)
    .attr("height", t.rows[2] - t.rows[1] - 2).attr("fill", "none").attr("stroke", "#e8c548").attr("stroke-width", 2);
  resultHeaders.forEach((h, i) => {
    g.append("text").attr("class", "ui").attr("x", t.cols[i] + 7).attr("y", 495).text(h);
    g.append("text").attr("class", "ui").attr("x", t.cols[i] + 7).attr("y", 518.5).text(p.results[i]);
  });
}

panels.forEach(drawPanel);

// page frame and separators
svg.append("line").attr("x1", 7).attr("x2", 7).attr("y1", 4).attr("y2", 1657).attr("stroke", "#000").attr("stroke-width", 4);
svg.append("line").attr("x1", 1289.5).attr("x2", 1289.5).attr("y1", 4).attr("y2", 1657).attr("stroke", "#000").attr("stroke-width", 4);
svg.append("line").attr("x1", 5).attr("x2", 1292).attr("y1", 6).attr("y2", 6).attr("stroke", "#000").attr("stroke-width", 4);
svg.append("line").attr("x1", 5).attr("x2", 1290).attr("y1", 557).attr("y2", 557).attr("stroke", "#151515").attr("stroke-width", 2.5);
svg.append("line").attr("x1", 5).attr("x2", 1290).attr("y1", 1108.5).attr("y2", 1108.5).attr("stroke", "#000").attr("stroke-width", 2.5);
</script>
</body>
</html>
